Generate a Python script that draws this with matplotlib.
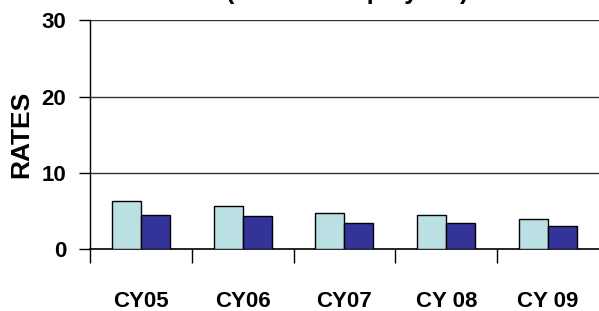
import matplotlib.pyplot as plt
import numpy as np

categories = ["CY05", "CY06", "CY07", "CY 08", "CY 09"]
series_a = [6.3, 5.7, 4.7, 4.5, 4.0]
series_b = [4.5, 4.3, 3.4, 3.4, 3.0]
yticks = [0, 10, 20, 30]

plt.rcParams['font.family'] = ['Liberation Sans', 'DejaVu Sans']

fig = plt.figure(figsize=(5.99, 3.11), dpi=100)
ax = fig.add_axes([0.150, 0.199, 0.85, 0.736])

x = np.arange(len(categories))
w = 0.285
ax.bar(x - w / 2, series_a, w, color="#BAE0E4", edgecolor="black", linewidth=1, zorder=3)
ax.bar(x + w / 2, series_b, w, color="#333399", edgecolor="black", linewidth=1, zorder=3)

ax.set_xlim(-0.5, 4.5)
ax.set_ylim(0, 30)
ax.set_yticks(yticks)
ax.set_yticklabels([str(t) for t in yticks], fontsize=16, fontweight="bold")
for t in yticks[1:]:
	ax.axhline(t, color="#333333", linewidth=1, zorder=1)

ax.set_xticks(x)
ax.set_xticklabels(categories, fontsize=16, fontweight="bold")
ax.tick_params(axis="x", which="major", length=0, pad=30)
ax.set_xticks(np.arange(-0.5, 4.0, 1.0), minor=True)
ax.tick_params(axis="x", which="minor", length=10, width=1, direction="out")
ax.tick_params(axis="y", length=8, width=1, direction="out", pad=9)

for s in ["top", "right"]:
	ax.spines[s].set_visible(False)
ax.spines["left"].set_linewidth(1)
ax.spines["bottom"].set_linewidth(1.2)

ax.set_ylabel("RATES", fontsize=19, fontweight="bold", labelpad=6)
fig.text(0.58, 1.025, "(Per 100 employees)", ha="center", va="center", fontsize=18, fontweight="bold")

fig.savefig("out.png", dpi=100)
